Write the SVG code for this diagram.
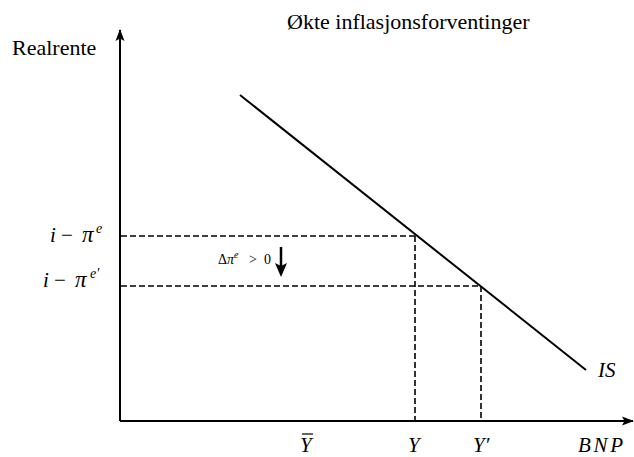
<svg xmlns="http://www.w3.org/2000/svg" width="634" height="457" viewBox="0 0 634 457">
<style>
text{font-family:'Liberation Serif','Times New Roman','DejaVu Serif',serif;fill:#000}
.t{font-size:22px}
.m{font-style:italic;font-size:21px}
.pi{font-style:italic;font-size:23px}
.sup{font-style:italic;font-size:14px}
.up{font-style:normal}
.ax{stroke:#000;stroke-width:2;fill:none}
.d{stroke:#000;stroke-width:1.6;stroke-dasharray:6,3;fill:none}
</style>
<defs>
<marker id="ah" markerWidth="12" markerHeight="12" refX="11" refY="6" orient="auto" markerUnits="userSpaceOnUse">
<path d="M0,1.5 L12,6 L0,10.5 L2.5,6 Z" fill="#000"/>
</marker>
</defs>
<g id="connectors">
<line class="ax" x1="120" y1="421" x2="120" y2="30" marker-end="url(#ah)"/>
<line class="ax" x1="120" y1="421" x2="633" y2="421" marker-end="url(#ah)"/>
<line class="d" x1="121" y1="236" x2="415" y2="236"/>
<line class="d" x1="415" y1="236" x2="415" y2="421"/>
<line class="d" x1="121" y1="286" x2="481" y2="286"/>
<line class="d" x1="481" y1="286" x2="481" y2="421"/>
<line stroke="#000" stroke-width="2.5" x1="281" y1="247" x2="281" y2="268"/>
<path d="M275,263 L281,277 L287,263 L281,266 Z" fill="#000"/>
</g>
<g id="is-curve">
<line stroke="#000" stroke-width="2" x1="240" y1="95" x2="586" y2="370"/>
<text class="m" x="598" y="377">IS</text>
</g>
<g id="title"><text class="t" x="287" y="29">Økte inflasjonsforventinger</text></g>
<g id="ylabel"><text class="t" x="12" y="55">Realrente</text></g>
<g id="xlabel"><text class="m" x="578" y="452" textLength="45">BNP</text></g>
<g id="r1"><text class="m" y="242"><tspan x="50">i</tspan><tspan class="up" x="61">−</tspan><tspan class="pi" x="82">π</tspan><tspan class="sup" x="96" y="233">e</tspan></text></g>
<g id="r2"><text class="m" y="287"><tspan x="43">i</tspan><tspan class="up" x="54">−</tspan><tspan class="pi" x="75">π</tspan><tspan class="sup" x="90" y="278">e′</tspan></text></g>
<g id="delta"><text y="264" style="font-size:14px"><tspan x="218">Δ</tspan><tspan style="font-style:italic">π</tspan><tspan style="font-style:italic;font-size:10px" y="258">e</tspan><tspan x="249" y="264">&gt;</tspan><tspan x="264">0</tspan></text></g>
<g id="ybar"><text class="m" x="300" y="452">Y</text><line stroke="#000" stroke-width="1.2" x1="302" y1="434" x2="313" y2="434"/></g>
<g id="y1"><text class="m" x="408" y="452">Y</text></g>
<g id="y2"><text class="m" x="473" y="452">Y′</text></g>
</svg>
